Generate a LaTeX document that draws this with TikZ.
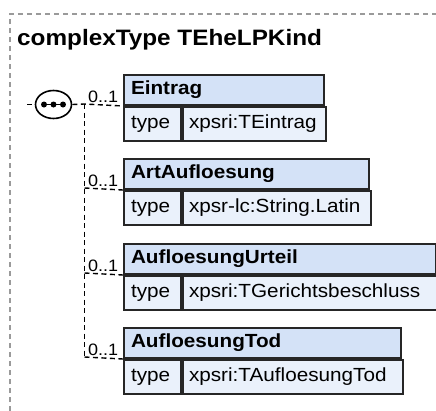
\documentclass[tikz,border=0pt]{standalone}
\usetikzlibrary{shapes.geometric}
\usepackage{fontspec}
\setmainfont{Liberation Sans}[FakeStretch=1.09]
\definecolor{hdrblue}{HTML}{D4E2F7}
\definecolor{rowblue}{HTML}{EAF1FB}
\definecolor{framegray}{HTML}{9A9A9A}
\definecolor{boxline}{HTML}{262626}
\begin{document}
\begin{tikzpicture}[x=1pt,y=-1pt,
  frame/.style={draw=framegray, line width=1.1pt, dash pattern=on 5pt off 4pt},
  conn/.style={draw=black, line width=1.4pt, dash pattern=on 5pt off 3.5pt},
  hdr/.style={draw=boxline, line width=2pt, fill=hdrblue, anchor=north west,
    minimum height=30pt, inner xsep=7pt, inner ysep=0pt, align=left,
    font=\fontsize{19}{22}\selectfont\bfseries},
  tcell/.style={draw=boxline, line width=2pt, fill=rowblue, anchor=north west,
    minimum height=34pt, minimum width=57pt, text width=43pt, inner xsep=7pt,
    inner ysep=0pt, align=left, font=\fontsize{19}{22}\selectfont},
  vcell/.style={draw=boxline, line width=2pt, fill=rowblue, anchor=north west,
    minimum height=34pt, inner xsep=6pt, inner ysep=0pt, align=left,
    font=\fontsize{19}{22}\selectfont},
  mult/.style={font=\fontsize{16.5}{18}\selectfont, anchor=base west, inner sep=0pt},
  dotc/.style={circle, fill=black, inner sep=0pt, minimum size=6pt}
]
\useasboundingbox (0,0) rectangle (436,410);
% outer frame
\draw[frame] (10,420) -- (10,14) -- (440,14);
\node[anchor=base west, inner sep=0pt, font=\fontsize{22.3}{26}\selectfont\bfseries] (title) at (17,45) {complexType TEheLPKind};
% sequence symbol
\node[ellipse, draw=black, line width=1.6pt, fill=white, minimum width=36pt, minimum height=28pt, inner sep=0pt] (seq) at (53.5,104.5) {};
\draw[line width=1.4pt] (43,104.5) -- (64,104.5);
\node[dotc] (d1) at (44,104.5) {};
\node[dotc] (d2) at (53.5,104.5) {};
\node[dotc] (d3) at (63,104.5) {};
\coordinate (in) at (27,104.5);
\draw[conn] (in) -- (seq.west);
% boxes
\foreach \n/\t/\w/\nm/\typ in {
  1/74/200/Eintrag/xpsri:TEintrag,
  2/158/245/ArtAufloesung/xpsr-lc:String.Latin,
  3/243/312/AufloesungUrteil/xpsri:TGerichtsbeschluss,
  4/327/277/AufloesungTod/xpsri:TAufloesungTod}{
  \pgfmathsetmacro{\hw}{\w-14}
  \pgfmathsetmacro{\vt}{\w-69}
  \node[hdr, text width=\hw pt] (h\n) at (123,\t) {\nm};
  \node[tcell] (t\n) at (h\n.south west) {type};
  \node[vcell, text width=\vt pt] (v\n) at (t\n.north east) {\typ};
  \coordinate (j\n) at (84.5,\t+30);
  \node[mult] (m\n) at (88,\t+28) {0..1};
}
% connectors
\draw[conn] (seq.east) -- (j1) -- (h1.south west);
\draw[conn] (j1) -- (j4);
\draw[conn] (j2) -- (h2.south west);
\draw[conn] (j3) -- (h3.south west);
\draw[conn] (j4) -- (h4.south west);
\end{tikzpicture}
\end{document}
